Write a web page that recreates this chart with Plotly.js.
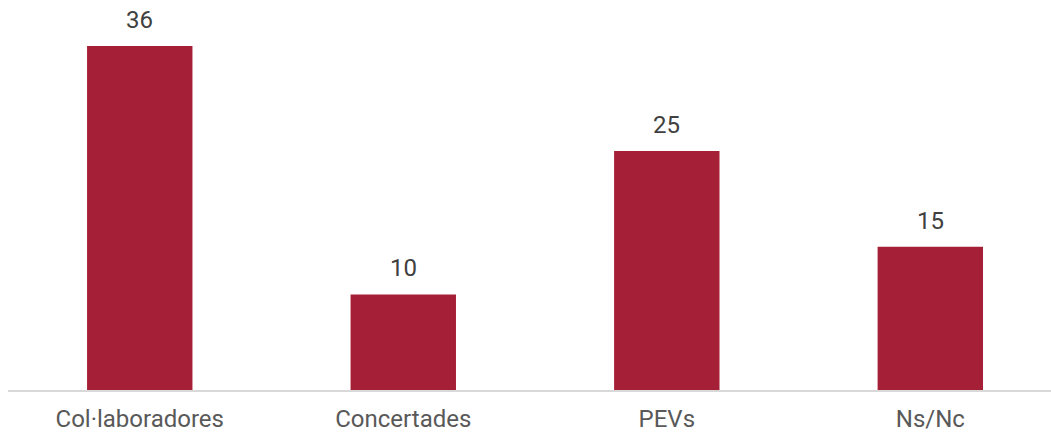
<!DOCTYPE html>
<html>
<head>
<meta charset="utf-8">
<script src="https://cdn.plot.ly/plotly-3.0.1.min.js"></script>
<style>html,body{margin:0;padding:0;background:#fff;}#chart{width:1051px;height:432px;}</style>
</head>
<body>
<div id="chart"></div>
<script>
const categories = ["Col·laboradores", "Concertades", "PEVs", "Ns/Nc"];
const values = [36, 10, 25, 15];

const trace = {
  type: "bar",
  x: categories,
  y: values,
  marker: {color: "#A52036"},
  hoverinfo: "none"
};

const annotations = categories.map((c, i) => ({
  x: c,
  y: values[i],
  xref: "x",
  yref: "y",
  text: String(values[i]),
  showarrow: false,
  yanchor: "bottom",
  yshift: 10,
  font: {family: "Roboto", size: 24, color: "#404040"}
}));

const layout = {
  width: 1051,
  height: 432,
  margin: {l: 8, r: 0, t: 0, b: 41.5},
  paper_bgcolor: "#ffffff",
  plot_bgcolor: "#ffffff",
  bargap: 0.6,
  showlegend: false,
  font: {family: "Roboto", size: 24, color: "#595959"},
  annotations: annotations,
  xaxis: {
    type: "category",
    range: [-0.5, 3.458],
    showline: true,
    linecolor: "#d9d9d9",
    linewidth: 2,
    ticks: "",
    ticklabelstandoff: 6,
    showgrid: false,
    zeroline: false,
    tickfont: {family: "Roboto", size: 24, color: "#595959"}
  },
  yaxis: {
    range: [0, 40.81],
    showgrid: false,
    zeroline: false,
    showticklabels: false,
    showline: false,
    ticks: ""
  }
};

Plotly.newPlot("chart", [trace], layout, {staticPlot: true, displayModeBar: false});
</script>
</body>
</html>
